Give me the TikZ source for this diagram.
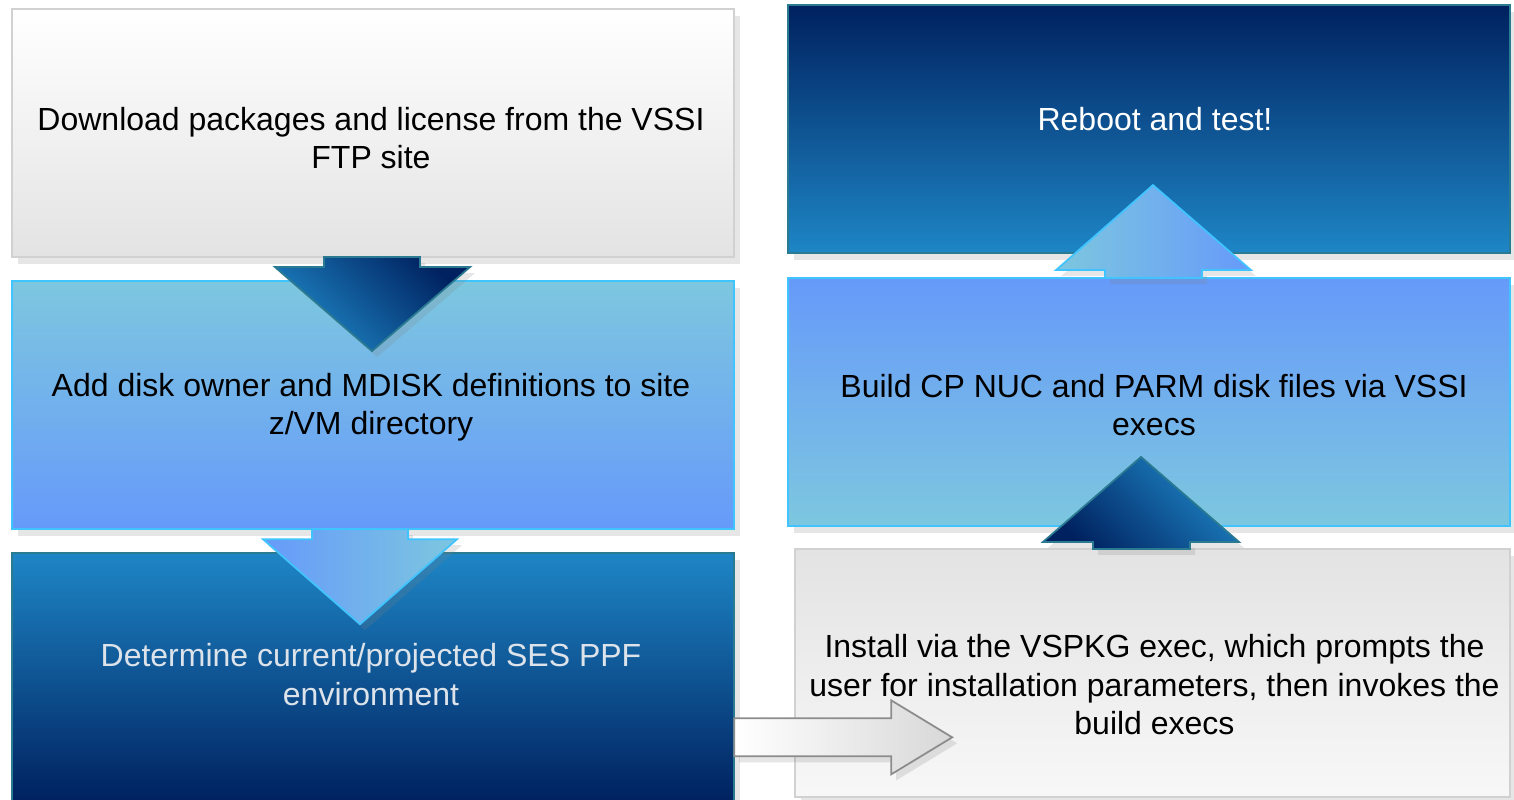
\documentclass[tikz,border=0pt]{standalone}
\usepackage{fontspec}
\setmainfont{Liberation Sans}
\usetikzlibrary{calc}
\usetikzlibrary{positioning}
\usetikzlibrary{shadows}
\definecolor{skyblue}{HTML}{7DC7DF}
\definecolor{periwinkle}{HTML}{669AFA}
\definecolor{midblue}{HTML}{1E86C6}
\definecolor{navyblue}{HTML}{00215F}
\definecolor{palegrey}{HTML}{E3E3E3}
\definecolor{edgeteal}{HTML}{2A7A92}
\definecolor{edgecyan}{HTML}{40C4FF}
\definecolor{paletext}{HTML}{DCE3EA}
\tikzset{
    flow box/.style={
        rectangle,
        inner sep=0,
        outer sep=0,
        minimum width=7.22cm,
        minimum height=2.48cm,
        line width=0.5pt,
        drop shadow={opacity=0.2, shadow xshift=0.6mm, shadow yshift=-0.7mm},
    },
    grey box/.style={
        flow box,
        draw=palegrey!92!black,
        top color=white,
        bottom color=palegrey,
    },
    light box/.style={
        flow box,
        draw=edgecyan,
    },
    dark box/.style={
        flow box,
        draw=edgeteal,
    },
    box text/.style={
        align=center,
        font=\fontsize{9.1}{10.95}\selectfont,
        inner sep=0,
    },
    block arrow/.style={
        line width=0.5pt,
        line join=miter,
        drop shadow={opacity=0.2, shadow xshift=0.5mm, shadow yshift=-0.6mm},
    },
}
\begin{document}
\begin{tikzpicture}[x=0.01cm, y=-0.01cm]
    \useasboundingbox (0,0) rectangle (1514,799);

    % left column
    \node[grey box] (b1) at (373,133) {};
    \node[light box, top color=skyblue, bottom color=periwinkle, below=0.24cm of b1] (b2) {};
    \node[dark box, top color=midblue, bottom color=navyblue, below=0.24cm of b2] (b3) {};

    % right column
    \node[dark box, top color=navyblue, bottom color=midblue] (b4) at (1149,129) {};
    \node[light box, top color=periwinkle, bottom color=skyblue, below=0.25cm of b4] (b5) {};
    \node[grey box, minimum width=7.15cm, top color=palegrey, bottom color=white!97!black] (b6) at (1152.5,673) {};

    \node[box text] (t1) at ($(b1.center)+(-2,5)$) {Download packages and license from the VSSI\\FTP site};
    \node[box text] (t2) at ($(b2.center)+(-2,2)$) {Add disk owner and MDISK definitions to site\\z/VM directory};
    \node[box text, text=paletext] (t3) at ($(b3.center)+(-2,-3)$) {Determine current/projected SES PPF\\environment};
    \node[box text, text=white] (t4) at ($(b4.center)+(6,-10)$) {Reboot and test!};
    \node[box text] (t5) at ($(b5.center)+(5,3)$) {Build CP NUC and PARM disk files via VSSI\\execs};
    \node[box text] (t6) at ($(b6.center)+(2,12)$) {Install via the VSPKG exec, which prompts the\\user for installation parameters, then invokes the\\build execs};

    % block arrows between the steps
    \path[block arrow, draw=edgeteal, top color=navyblue, bottom color=midblue, shading angle=-45]
        ($(b1.south)+(-49,0)$) -- ++(0,10) -- ++(-49,0) -- ($(b1.south)+(-1,94)$)
        -- ($(b1.south)+(97,10)$) -- ++(-50,0) -- ($(b1.south)+(47,0)$) -- cycle;
    \path[block arrow, draw=edgecyan, left color=periwinkle, right color=skyblue]
        ($(b2.south)+(-61,0)$) -- ++(0,10) -- ++(-49,0) -- ($(b2.south)+(-13,95)$)
        -- ($(b2.south)+(84,10)$) -- ++(-49,0) -- ($(b2.south)+(35,0)$) -- cycle;
    \path[block arrow, draw=black!45, left color=white, right color=palegrey!95!black]
        ($(b3.east)+(0,41)$) -- ++(157,0) -- ++(0,-18) -- ($(b3.east)+(218,60)$)
        -- ($(b3.east)+(157,97)$) -- ++(0,-18) -- ($(b3.east)+(0,79)$) -- cycle;
    \path[block arrow, draw=edgeteal, top color=midblue, bottom color=navyblue, shading angle=-45]
        ($(b6.north)+(-59.5,0)$) -- ++(0,-7) -- ++(-50,0) -- ($(b6.north)+(-11.5,-92)$)
        -- ($(b6.north)+(86.5,-7)$) -- ++(-49,0) -- ($(b6.north)+(37.5,0)$) -- cycle;
    \path[block arrow, draw=edgecyan, left color=skyblue, right color=periwinkle]
        ($(b5.north)+(-44,0)$) -- ++(0,-8) -- ++(-49,0) -- ($(b5.north)+(4,-93)$)
        -- ($(b5.north)+(102,-8)$) -- ++(-49,0) -- ($(b5.north)+(53,0)$) -- cycle;

\end{tikzpicture}
\end{document}
